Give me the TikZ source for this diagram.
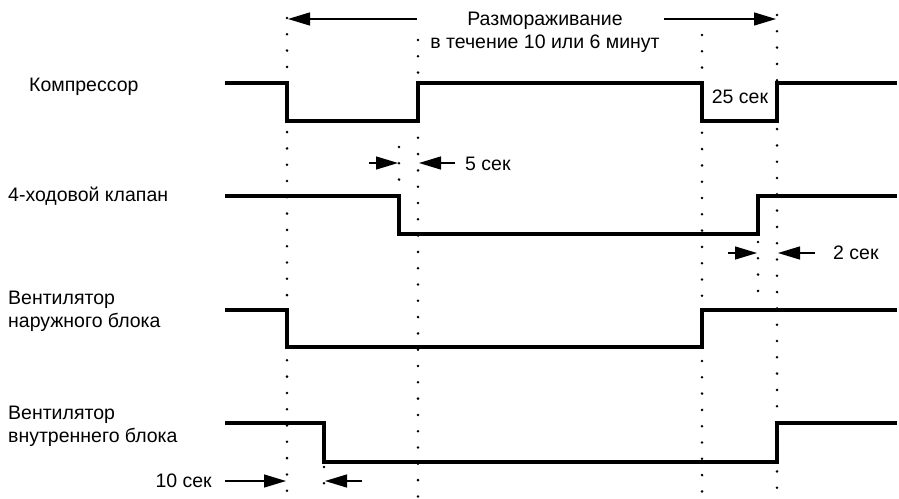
\documentclass[tikz,border=0pt]{standalone}
\usepackage{fontspec}
\setmainfont{Liberation Sans}
\usetikzlibrary{arrows.meta, positioning}
\tikzset{
  font=\fontsize{19.5}{23}\selectfont,
  >={Triangle[length=22pt, width=13pt]},
  %
  wave/.style={line width=3.3pt, line join=miter},
  guide/.style={line width=2.8pt, line cap=round, dash pattern=on 0pt off 16.3pt},
  dim/.style={line width=1.3pt, ->},
  %
  lbl/.style={inner sep=0pt, anchor=west, align=left},
  tag/.style={inner sep=0pt, align=center},
}

\begin{document}
\begin{tikzpicture}[x=1pt, y=-1pt]
\useasboundingbox (0,0) rectangle (899,498);

% =========================================================================
% time marks
% =========================================================================
\draw[guide] (287,18) -- (287,498);
\draw[guide] (418,40) -- (418,498);
\draw[guide] (702,35) -- (702,498);
\draw[guide] (777,15) -- (777,498);
% short marks for the delays
\draw[guide] (399,147) -- (399,196);
\draw[guide] (758,242) -- (758,292);
\draw[guide] (324,467) -- (324,498);

% =========================================================================
% signals
% =========================================================================
\node[lbl] (comp) at (29,87) {Компрессор};
\draw[wave] (225,83) -| (287,121) -| (418,83) -| (702,121) -| (777,83) -- (897,83);
\node[tag] (t25) at (740,97) {25 сек};

\node[lbl] (valve) at (8,196) {4-ходовой клапан};
\draw[wave] (225,196) -| (399,234) -| (758,196) -- (897,196);

\node[lbl] (outfan) at (8,311) {Вентилятор\\наружного блока};
\draw[wave] (225,310) -| (287,347) -| (702,310) -- (897,310);

\node[lbl] (infan) at (8,426) {Вентилятор\\внутреннего блока};
\draw[wave] (225,423) -| (324,462) -| (777,423) -- (897,423);

% =========================================================================
% durations
% =========================================================================
\node[tag] (defrost) at (545,32) {Размораживание\\в течение 10 или 6 минут};
\coordinate (dfl0) at (417,19);
\coordinate (dfl1) at (288,19);
\coordinate (dfr0) at (664,19);
\coordinate (dfr1) at (776,19);
\draw[dim] (dfl0) -- (dfl1);
\draw[dim] (dfr0) -- (dfr1);

\node[tag, anchor=west] (t5) at (465,164) {5 сек};
\coordinate (s5a0) at (369,163);
\coordinate (s5a1) at (398,163);
\coordinate (s5b0) at (455,163);
\coordinate (s5b1) at (419,163);
\draw[dim] (s5a0) -- (s5a1);
\draw[dim] (s5b0) -- (s5b1);

\node[tag, anchor=west] (t2) at (833,253) {2 сек};
\coordinate (s2a0) at (728,253);
\coordinate (s2a1) at (757,253);
\coordinate (s2b0) at (815,253);
\coordinate (s2b1) at (778,253);
\draw[dim] (s2a0) -- (s2a1);
\draw[dim] (s2b0) -- (s2b1);

\node[tag, anchor=east] (t10) at (212,481) {10 сек};
\coordinate (s10a0) at (225,481);
\coordinate (s10a1) at (286,481);
\coordinate (s10b0) at (362,481);
\coordinate (s10b1) at (325,481);
\draw[dim] (s10a0) -- (s10a1);
\draw[dim] (s10b0) -- (s10b1);

\end{tikzpicture}
\end{document}
